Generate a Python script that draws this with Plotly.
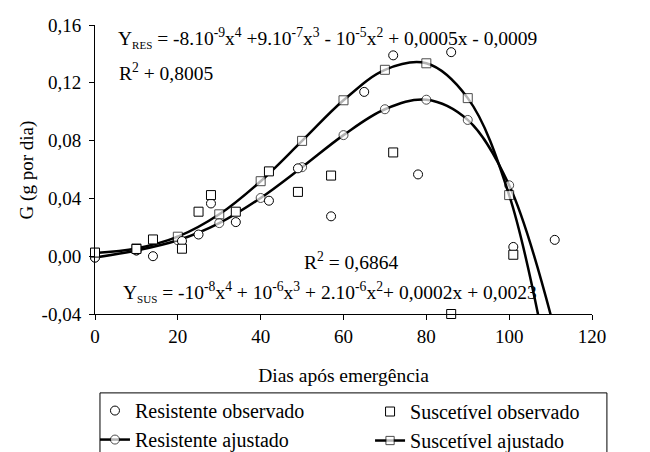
import plotly.graph_objects as go

# ---- data ----
dias_ajuste = [0, 10, 20, 30, 40, 50, 60, 70, 80, 90, 100, 110]
res_ajustado = [-0.0009, 0.0039, 0.0110, 0.0229, 0.0403, 0.0616, 0.0838, 0.1017, 0.1083, 0.0943, 0.0491, -0.0403]
sus_ajustado = [0.0023, 0.0054, 0.0135, 0.0290, 0.0519, 0.0798, 0.1079, 0.1290, 0.1335, 0.1094, 0.0423, -0.0846]

dias_res_obs = [0, 10, 14, 21, 25, 28, 34, 42, 49, 57, 65, 72, 78, 86, 101, 111]
res_observado = [-0.001, 0.004, 0.000, 0.0105, 0.015, 0.0365, 0.0236, 0.0384, 0.0608, 0.0276, 0.1137, 0.139, 0.0566, 0.1412, 0.0064, 0.0113]

dias_sus_obs = [0, 10, 14, 21, 25, 28, 34, 42, 49, 57, 72, 86, 101]
sus_observado = [0.0025, 0.005, 0.0116, 0.0052, 0.0308, 0.0423, 0.0308, 0.0587, 0.0445, 0.0558, 0.0718, -0.04, 0.001]

x_ticks = [0, 20, 40, 60, 80, 100, 120]
y_ticks = [-0.04, 0.00, 0.04, 0.08, 0.12, 0.16]
y_tick_text = [("%.2f" % v).replace(".", ",") for v in y_ticks]
y_min, y_max = -0.04, 0.16

FONT = "Liberation Serif, Times New Roman, serif"
MS = 9

def sizes(vals):
    return [MS if v >= y_min - 0.001 else 0 for v in vals]

fig = go.Figure()

fig.add_trace(go.Scatter(
    x=dias_ajuste, y=res_ajustado, mode="lines+markers", name="Resistente ajustado",
    line=dict(color="black", width=2.5, shape="spline", smoothing=1),
    marker=dict(symbol="circle", size=sizes(res_ajustado), color="white", line=dict(color="black", width=1)),
    cliponaxis=False, legend="legend", legendrank=2))
fig.add_trace(go.Scatter(
    x=dias_ajuste, y=sus_ajustado, mode="lines+markers", name="Suscetível ajustado",
    line=dict(color="black", width=2.5, shape="spline", smoothing=1),
    marker=dict(symbol="square", size=sizes(sus_ajustado), color="white", line=dict(color="black", width=1)),
    cliponaxis=False, legend="legend2", legendrank=2))
fig.add_trace(go.Scatter(
    x=dias_res_obs, y=res_observado, mode="markers", name="Resistente observado",
    marker=dict(symbol="circle", size=MS, color="white", line=dict(color="black", width=1)),
    cliponaxis=False, legend="legend", legendrank=1))
fig.add_trace(go.Scatter(
    x=dias_sus_obs, y=sus_observado, mode="markers", name="Suscetível observado",
    marker=dict(symbol="square", size=MS, color="white", line=dict(color="black", width=1)),
    cliponaxis=False, legend="legend2", legendrank=1))

sub = "<sub><span style='font-size:11px'>%s</span></sub>"
eq_res = ("Y" + sub % "RES" + " = -8.10<sup>-9</sup>x<sup>4</sup> +9.10<sup>-7</sup>x<sup>3</sup>"
          " - 10<sup>-5</sup>x<sup>2</sup> + 0,0005x - 0,0009")
r2_res = "R<sup>2</sup> + 0,8005"
r2_sus = "R<sup>2</sup> = 0,6864"
eq_sus = ("Y" + sub % "SUS" + " = -10<sup>-8</sup>x<sup>4</sup> + 10<sup>-6</sup>x<sup>3</sup>"
          " + 2.10<sup>-6</sup>x<sup>2</sup>+ 0,0002x + 0,0023")

ann_font = dict(family=FONT, size=19.5, color="black")
annotations = [
    dict(text=eq_res, x=0.042, y=0.955, xref="paper", yref="paper", xanchor="left", yanchor="middle", showarrow=False, font=ann_font),
    dict(text=r2_res, x=0.045, y=0.837, xref="paper", yref="paper", xanchor="left", yanchor="middle", showarrow=False, font=ann_font),
    dict(text=r2_sus, x=0.515, y=0.185, xref="paper", yref="paper", xanchor="center", yanchor="middle", showarrow=False, font=ann_font),
    dict(text=eq_sus, x=0.052, y=0.075, xref="paper", yref="paper", xanchor="left", yanchor="middle", showarrow=False, font=ann_font),
    # y-axis title
    dict(text="G (g por dia)", x=-0.137, y=0.5, xref="paper", yref="paper", xanchor="center", yanchor="middle",
         textangle=-90, showarrow=False, font=dict(family=FONT, size=19, color="black")),
]

# legend frame (its lower edge runs past the bottom of the picture)
shapes = [dict(type="rect", xref="paper", yref="paper", x0=0.010, x1=1.030, y0=-0.60, y1=-0.273,
               line=dict(color="black", width=1), fillcolor="rgba(0,0,0,0)", layer="above")]

leg_font = dict(family=FONT, size=20, color="black")
fig.update_layout(
    width=650, height=452,
    margin=dict(l=87, r=66, t=17, b=146, autoexpand=False),
    paper_bgcolor="white", plot_bgcolor="white",
    font=dict(family=FONT, size=19, color="black"),
    annotations=annotations,
    shapes=shapes,
    showlegend=True,
    legend=dict(orientation="v", xref="container", yref="container", x=0.1338, y=0.1525,
                xanchor="left", yanchor="top", borderwidth=0, bgcolor="rgba(0,0,0,0)",
                font=leg_font, traceorder="normal"),
    legend2=dict(orientation="v", xref="container", yref="container", x=0.557, y=0.1504,
                 xanchor="left", yanchor="top", borderwidth=0, bgcolor="rgba(0,0,0,0)",
                 font=leg_font, traceorder="normal"),
    xaxis=dict(range=[0, 120], tickvals=x_ticks, ticks="outside", ticklen=5, tickcolor="black",
               showline=True, linecolor="black", linewidth=1, showgrid=False, zeroline=False,
               tickfont=dict(family=FONT, size=19, color="black"),
               title=dict(text="Dias após emergência", font=dict(family=FONT, size=19.5, color="black"), standoff=22)),
    yaxis=dict(range=[y_min, y_max], tickvals=y_ticks, ticktext=y_tick_text, ticks="outside", ticklen=5,
               tickcolor="black", showline=True, linecolor="black", linewidth=1, showgrid=False,
               zeroline=False, ticklabelstandoff=4,
               tickfont=dict(family=FONT, size=19, color="black")),
)

fig.write_html("out.html")
